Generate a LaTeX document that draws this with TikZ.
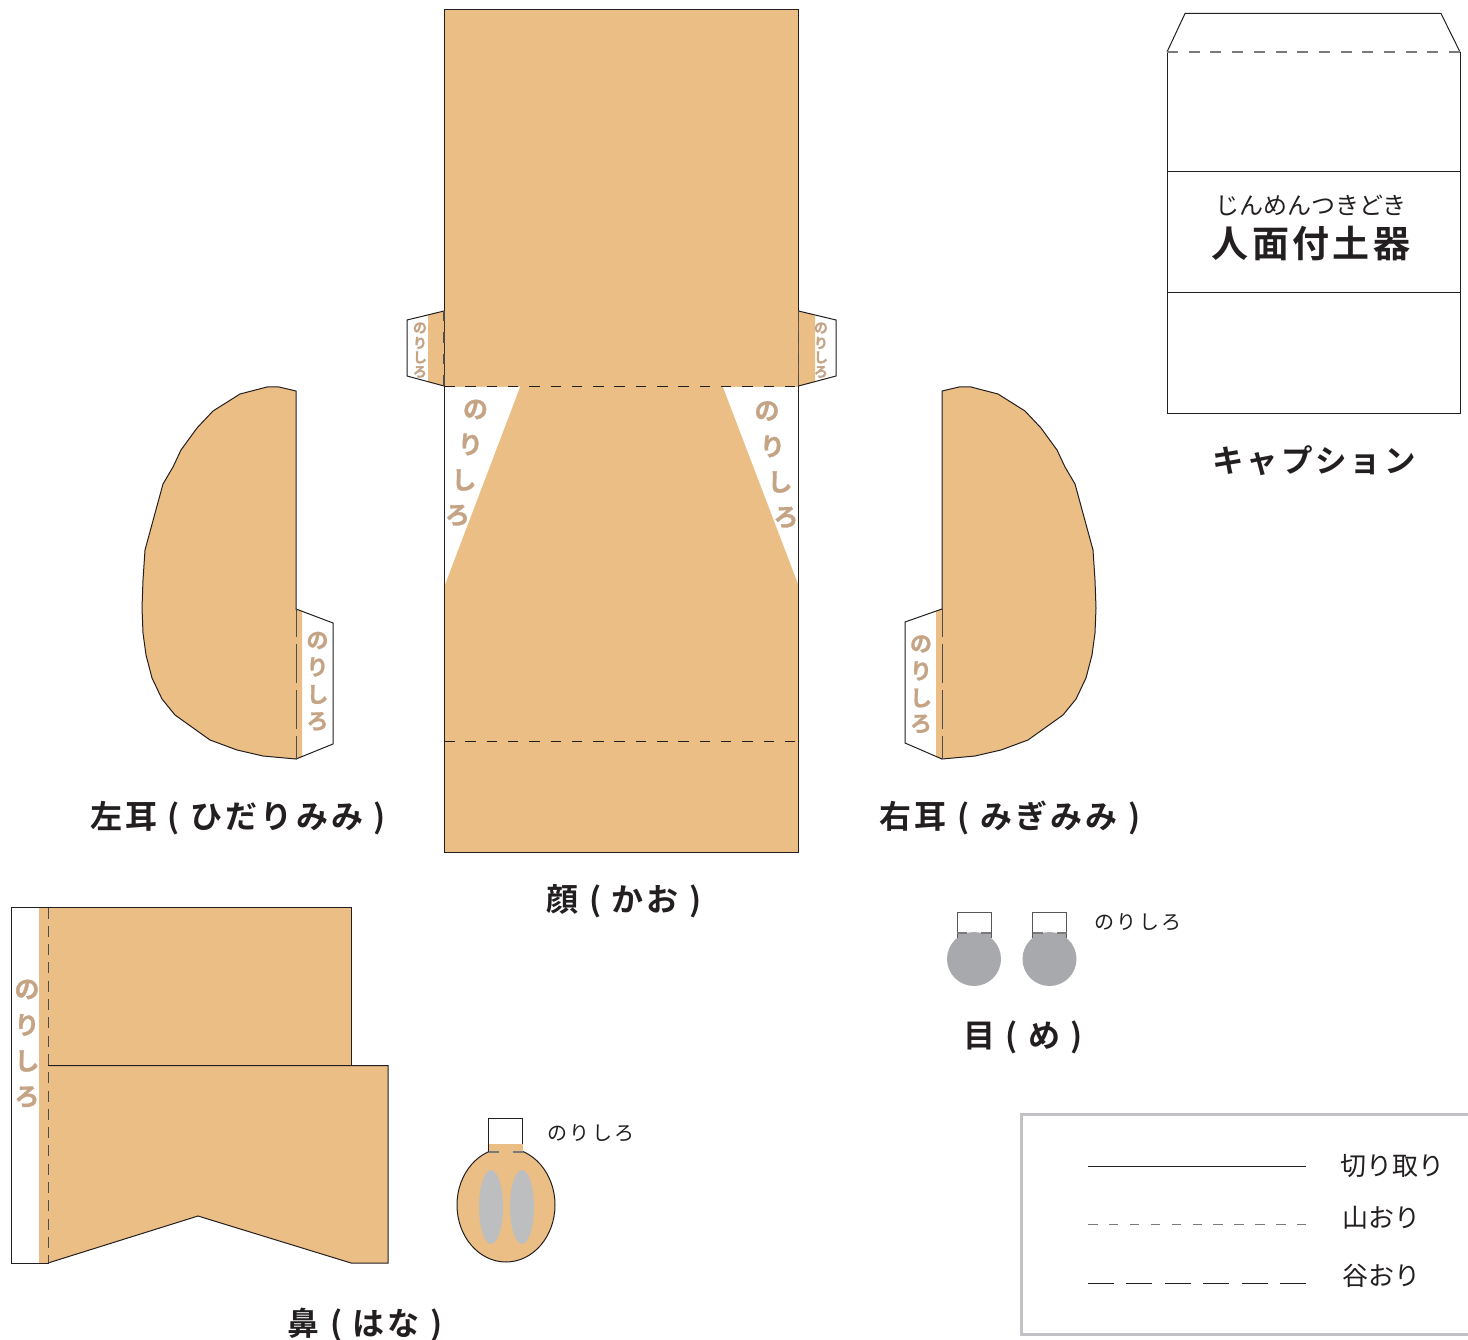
\documentclass[tikz,border=0pt]{standalone}
\usepackage{fontspec}
\newfontfamily\jplight{Noto Sans CJK JP}
\newfontfamily\jpbold[LetterSpace=10]{Noto Sans CJK JP Bold}
\newfontfamily\jpkanji[LetterSpace=9]{Noto Sans CJK JP Bold}
\newfontfamily\jpglue[FakeBold=1.2]{Noto Sans CJK JP Bold}
\newfontfamily\jpnote[LetterSpace=11]{Noto Sans CJK JP}
\definecolor{skin}{HTML}{EBBE85}
\definecolor{gluetext}{HTML}{C4A484}
\definecolor{inkline}{HTML}{231F20}
\definecolor{eyegray}{HTML}{A7A9AC}
\definecolor{nosegray}{HTML}{BCBEC0}
\definecolor{framegray}{HTML}{C0C2C5}
\tikzset{
    cutline/.style={draw=inkline,line width=1pt},
    foldline/.style={draw=inkline,line width=1.3pt,dash pattern=on 10.5pt off 10.8pt},
    earfold/.style={draw=inkline!80,line width=0.9pt,dash pattern=on 39pt off 7pt,dash phase=11pt},
    title/.style={font=\jpbold\fontsize{32}{32}\selectfont,text=inkline,inner sep=0pt},
    note/.style={font=\jpnote\fontsize{20}{20}\selectfont,text=inkline,inner sep=0pt},
    legendtext/.style={font=\jplight\fontsize{26}{26}\selectfont,text=inkline,inner sep=0pt},
    glue/.style={font=\jpglue\fontsize{25}{25}\selectfont,text=gluetext,inner sep=0pt},
    gluesmall/.style={font=\jpglue\fontsize{14}{14}\selectfont,text=gluetext,inner sep=0pt}
}
% half of an ear, given with the straight side on the right
\newcommand{\earoutline}{(296,391) -- (279,387) -- (267,387) -- (240,394) -- (213,411) -- (197,428) -- (181,450) -- (173,467) -- (163,484) -- (154,517) -- (145,550) -- (143,580) -- (142,608) -- (143,633) -- (146,655) -- (152,678) -- (162,699) -- (175,715) -- (210,740) -- (237,750) -- (263,756) -- (296,759) -- cycle}
\begin{document}
\begin{tikzpicture}[x=1pt,y=-1pt]
    \useasboundingbox (0,0) rectangle (1468,1340);

    % Draw face
    \fill[skin] (444,10) rectangle (798.5,852.5);
    \fill[white] (444,387) -- (520,387) -- (444,587) -- cycle;
    \fill[white] (798.5,387) -- (723,387) -- (798.5,585) -- cycle;
    \draw[cutline] (444,10) rectangle (798.5,852.5);
    \draw[foldline] (444,386.5) -- (798.5,386.5);
    \draw[foldline] (444,741.5) -- (798.5,741.5);
    \foreach \ch/\px/\py/\n in {の/475.5/409.5/1,り/470.5/444.5/2,し/464/480/3,ろ/457.5/515.5/4} {
        \node[glue] (faceleft\n) at (\px,\py) {\ch};
    }
    \foreach \ch/\px/\py/\n in {の/767/411/1,り/772.5/446.5/2,し/780/482/3,ろ/786/517.5/4} {
        \node[glue] (faceright\n) at (\px,\py) {\ch};
    }

    % Draw face tabs
    \fill[skin] (428,315) -- (444,311) -- (444,386) -- (428,382) -- cycle;
    \draw[cutline] (444,311) -- (407,320) -- (407,376) -- (444,386);
    \draw[foldline,draw=inkline!80] (444,311) -- (444,386);
    \fill[skin] (815,315) -- (798.5,311) -- (798.5,386) -- (815,382) -- cycle;
    \draw[cutline] (798.5,311) -- (836,320) -- (836,376) -- (798.5,386);
    \draw[foldline,draw=inkline!80] (798.5,311) -- (798.5,386);
    \foreach \ch/\py/\n in {の/328/1,り/343/2,し/357.5/3,ろ/372/4} {
        \node[gluesmall] (tableft\n) at (420,\py) {\ch};
        \node[gluesmall] (tabright\n) at (821,\py) {\ch};
    }

    % Draw left ear
    \fill[skin] (296,609) -- (302,611) -- (302,757) -- (296,759) -- cycle;
    \draw[cutline] (296,609) -- (333,623) -- (333,744) -- (296,759);
    \draw[cutline,fill=skin] \earoutline;
    \draw[skin,line width=1.6pt] (296,610) -- (296,758);
    \draw[earfold] (296,609) -- (296,759);
    \foreach \ch/\py/\n in {の/640.5/1,り/667/2,し/694.5/3,ろ/721.5/4} {
        \node[glue,font=\jpglue\fontsize{22}{22}\selectfont] (earleft\n) at (317.5,\py) {\ch};
    }

    % Draw right ear
    \fill[skin] (942,609) -- (936,611) -- (936,757) -- (942,759) -- cycle;
    \draw[cutline] (942,609) -- (905,622) -- (905,743) -- (942,759);
    \begin{scope}[xscale=-1,xshift=-1238pt]
        \draw[cutline,fill=skin] \earoutline;
    \end{scope}
    \draw[skin,line width=1.6pt] (942,610) -- (942,758);
    \draw[earfold] (942,609) -- (942,759);
    \foreach \ch/\py/\n in {の/644/1,り/671/2,し/698/3,ろ/724/4} {
        \node[glue,font=\jpglue\fontsize{22}{22}\selectfont] (earright\n) at (921,\py) {\ch};
    }

    % Draw nose
    \draw[cutline,fill=white] (11,907.5) rectangle (48,1263);
    \fill[skin] (39,907.5) rectangle (48,1263);
    \draw[cutline,fill=skin] (48,907.5) rectangle (351,1065.5);
    \draw[cutline,fill=skin] (48,1065.5) -- (388,1065.5) -- (388,1263) -- (351,1263) -- (198,1216) -- (48,1263);
    \fill[skin] (47,908.5) rectangle (49,1262);
    \draw[foldline,draw=inkline!80,line width=1pt,dash pattern=on 11pt off 7.3pt] (48,907.5) -- (48,1263);
    \draw[cutline] (48,1065.5) -- (60,1065.5);
    \foreach \ch/\py/\n in {の/989.5/1,り/1025/2,し/1061/3,ろ/1097/4} {
        \node[glue] (nosetab\n) at (27,\py) {\ch};
    }

    % Draw nostrils
    \draw[cutline] (488.5,1152) -- (488.5,1118.5) -- (522.5,1118.5) -- (522.5,1152);
    \draw[cutline,fill=skin] (506,1205) ellipse (49 and 57);
    \fill[skin] (488.5,1144) rectangle (522.5,1156);
    \draw[foldline,draw=inkline!60,dash pattern=on 10pt off 14pt] (488.5,1152) -- (522.5,1152);
    \fill[nosegray] (491,1207) ellipse (12 and 37);
    \fill[nosegray] (522,1207) ellipse (12 and 37);
    \node[note] (noseglue) at (591,1133.5) {のりしろ};

    % Draw eyes
    \foreach \px/\n in {974/1,1049.5/2} {
        \draw[cutline,draw=inkline!75] (\px-17,938) -- (\px-17,912) -- (\px+17,912) -- (\px+17,938);
        \fill[eyegray] (\px-16.5,933) rectangle (\px+16.5,945);
        \fill[eyegray] (\px,959) circle (27);
        \draw[cutline,draw=inkline!75] (\px-17,933) -- (\px-17,938) (\px+17,933) -- (\px+17,938);
        \draw[foldline,draw=inkline!60,dash pattern=on 10pt off 14pt] (\px-17,933) -- (\px+17,933);
    }
    \node[note] (eyeglue) at (1138,922.5) {のりしろ};

    % Draw caption
    \draw[cutline] (1167,52) -- (1185,13.5) -- (1441,13.5) -- (1460,52);
    \draw[cutline] (1167,52) -- (1167,413) -- (1460,413) -- (1460,52);
    \draw[cutline] (1167,172) -- (1460,172);
    \draw[cutline] (1167,293) -- (1460,293);
    \draw[foldline,draw=inkline!60,dash pattern=on 11pt off 10.7pt] (1167,52) -- (1460,52);
    \node[font=\jplight\fontsize{24}{24}\selectfont,text=inkline,inner sep=0pt] (kana) at (1311,205) {じんめんつきどき};
    \node[font=\jpkanji\fontsize{37}{37}\selectfont,text=inkline,inner sep=0pt] (kanji) at (1311,243.5) {人面付土器};

    % Mark titles
    \node[title,font=\jpkanji\fontsize{31.5}{31.5}\selectfont] (captiontitle) at (1314,460.5) {キャプション};
    \node[title] (lefttitle) at (238,818) {左耳 ( ひだりみみ )};
    \node[title] (righttitle) at (1010,818) {右耳 ( みぎみみ )};
    \node[title] (facetitle) at (624,901) {顔 ( かお )};
    \node[title] (nosetitle) at (365,1325) {鼻 ( はな )};
    \node[title] (eyetitle) at (1023,1037) {目 ( め )};

    % Draw legend
    \draw[framegray,line width=3pt] (1468,1114) -- (1021,1114) -- (1021,1334) -- (1468,1334);
    \coordinate (cutstart) at (1088,1166);
    \coordinate (cutend) at (1306,1166);
    \coordinate (ridgestart) at (1088,1224.5);
    \coordinate (ridgeend) at (1306,1224.5);
    \coordinate (valleystart) at (1088,1283);
    \coordinate (valleyend) at (1306,1283);
    \draw[cutline] (cutstart) -- (cutend);
    \draw[draw=inkline!60,line width=1.2pt,dash pattern=on 9.5pt off 11.4pt] (ridgestart) -- (ridgeend);
    \draw[cutline,dash pattern=on 26pt off 12.4pt] (valleystart) -- (valleyend);
    \node[legendtext] (cutlabel) at (1392.5,1166) {切り取り};
    \node[legendtext] (ridgelabel) at (1381.5,1218) {山おり};
    \node[legendtext] (valleylabel) at (1381.5,1276) {谷おり};
\end{tikzpicture}
\end{document}
